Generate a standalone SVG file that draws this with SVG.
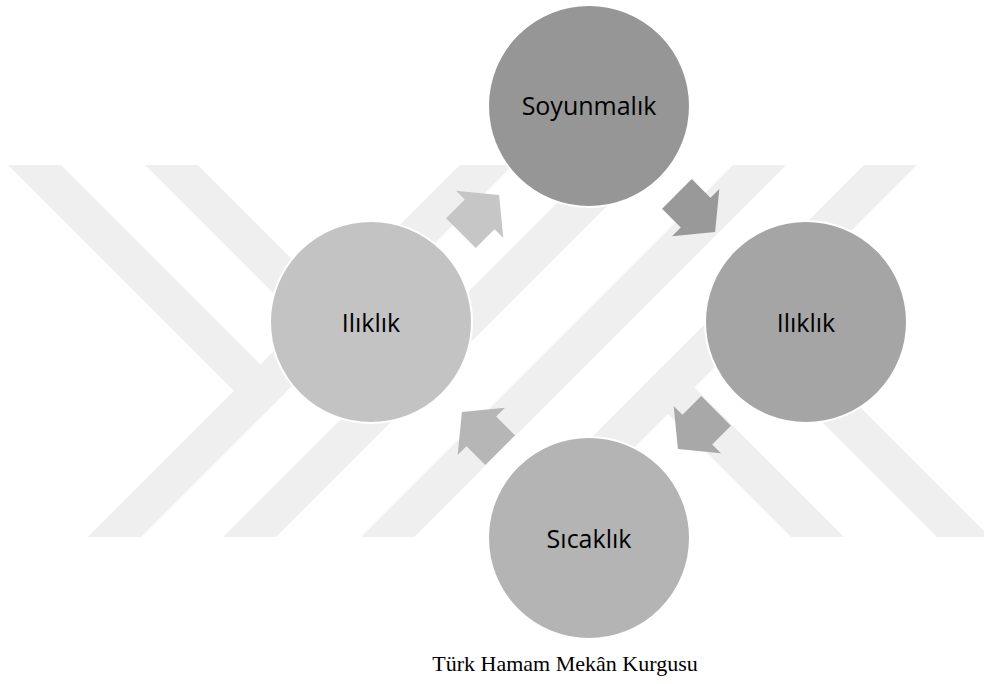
<svg xmlns="http://www.w3.org/2000/svg" xmlns:xlink="http://www.w3.org/1999/xlink" width="984" height="684" viewBox="0 0 984 684">
<style>
.wm polygon{fill:#efefef}
.node circle{stroke:#ffffff;stroke-width:2}
.node text{font-family:'Open Sans','Noto Sans','DejaVu Sans',sans-serif;font-size:25px;fill:#000000;text-anchor:middle}
.caption{font-family:'Liberation Serif','Times New Roman',serif;font-size:22px;fill:#000000;text-anchor:middle}
</style>
<defs>
<path id="arr" d="M-27,-21 H-0.5 V-33.5 L27,0 L-0.5,33.5 V21 H-27 Z"/>
</defs>
<rect x="0" y="0" width="984" height="684" fill="#ffffff"/>
<g id="watermark" class="wm">
<polygon points="88,537 141,537 513,165 460,165"/>
<polygon points="223,537 276,537 648,165 595,165"/>
<polygon points="361,537 414,537 786,165 733,165"/>
<polygon points="492,537 545,537 917,165 864,165"/>
<polygon points="8,165 61,165 287,391 260.5,417.5"/>
<polygon points="145,165 198,165 423,390 396.5,416.5"/>
<polygon points="641.5,387.5 668,361 844,537 791,537"/>
<polygon points="714.5,314.5 741,288 990,537 937,537"/>
</g>
<g id="connectors">
<use xlink:href="#arr" transform="translate(480,214) rotate(-45)" fill="#c6c6c6"/>
<use xlink:href="#arr" transform="translate(696,213) rotate(45)" fill="#999999"/>
<use xlink:href="#arr" transform="translate(697,430) rotate(135)" fill="#a8a8a8"/>
<use xlink:href="#arr" transform="translate(481,431) rotate(225)" fill="#b6b6b6"/>
</g>
<g id="node-soyunmalik" class="node">
<circle cx="589" cy="106" r="101" fill="#969696"/>
<text x="589" y="115">Soyunmalık</text>
</g>
<g id="node-ilik-right" class="node">
<circle cx="806" cy="322" r="101" fill="#a5a5a5"/>
<text x="806" y="332">Ilıklık</text>
</g>
<g id="node-sicaklik" class="node">
<circle cx="589" cy="538" r="101" fill="#b4b4b4"/>
<text x="589" y="548">Sıcaklık</text>
</g>
<g id="node-ilik-left" class="node">
<circle cx="371" cy="322" r="101" fill="#c3c3c3"/>
<text x="371" y="332">Ilıklık</text>
</g>
<text class="caption" x="565" y="671">Türk Hamam Mekân Kurgusu</text>
</svg>
